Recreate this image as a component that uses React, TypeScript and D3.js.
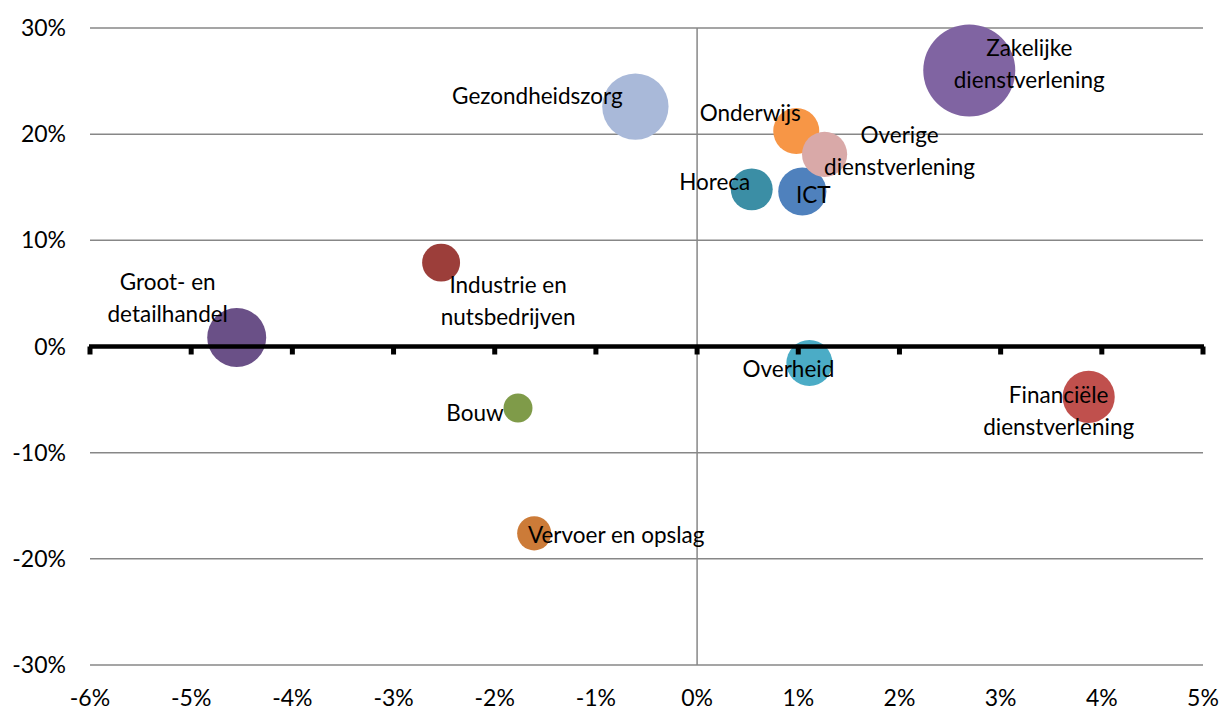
import React, { useEffect, useRef } from 'react';
import * as d3 from 'd3';

// sector names, growth of jobs (x, %), growth of something else (y, %), bubble size
const sectors = [
  'Horeca', 'ICT', 'Onderwijs', 'Overige dienstverlening', 'Gezondheidszorg',
  'Zakelijke dienstverlening', 'Industrie en nutsbedrijven', 'Groot- en detailhandel',
  'Bouw', 'Vervoer en opslag', 'Overheid', 'Financiële dienstverlening',
];
const xValues = [0.54, 1.04, 0.98, 1.26, -0.61, 2.69, -2.53, -4.55, -1.77, -1.61, 1.11, 3.87];
const yValues = [14.8, 14.6, 20.3, 18.1, 22.6, 26.0, 7.9, 0.85, -5.8, -17.6, -1.55, -4.75];
const sizes = [440, 580, 530, 510, 1100, 2116, 360, 870, 210, 290, 530, 680];

const colors = [
  '#3B8EA5', '#4F81BD', '#F79646', '#D9A9A8', '#A9B9D9', '#8064A2',
  '#9C3E3A', '#6A5087', '#7F9B49', '#CC7B38', '#4BACC6', '#C0504D',
];

// label lines and offsets (px) of the first baseline relative to the bubble centre
const labelLines = [
  ['Horeca'], ['ICT'], ['Onderwijs'], ['Overige', 'dienstverlening'], ['Gezondheidszorg'],
  ['Zakelijke', 'dienstverlening'], ['Industrie en', 'nutsbedrijven'], ['Groot- en', 'detailhandel'],
  ['Bouw'], ['Vervoer en opslag'], ['Overheid'], ['Financiële', 'dienstverlening'],
];
const labelOffsets: [number, number][] = [
  [-37, 1], [11, 12], [-46, -10], [75, -11], [-98, -3], [60, -14],
  [67, 30], [-69, -47], [-43, 13], [82, 10], [-21, 14], [-30, 6],
];

const xTicks = [-6, -5, -4, -3, -2, -1, 0, 1, 2, 3, 4, 5];
const yTicks = [-30, -20, -10, 0, 10, 20, 30];

const W = 1221;
const H = 711;

const BubbleChart = () => {
  const ref = useRef<SVGSVGElement>(null);

  useEffect(() => {
    if (!ref.current) return;
    const svg = d3.select(ref.current);
    svg.selectAll('*').remove();

    const margin = { top: 28, right: 18, bottom: 46, left: 90 };
    const x = d3.scaleLinear().domain([-6, 5]).range([margin.left, W - margin.right]);
    const y = d3.scaleLinear().domain([-30, 30]).range([H - margin.bottom, margin.top]);
    const r = d3.scaleSqrt().domain([0, d3.max(sizes) as number]).range([0, 46]);

    const font = 'Lato, "Open Sans", sans-serif';

    // horizontal gridlines
    svg.append('g')
      .selectAll('line')
      .data(yTicks.filter(t => t !== 0))
      .join('line')
      .attr('x1', x(-6)).attr('x2', x(5))
      .attr('y1', d => y(d)).attr('y2', d => y(d))
      .attr('stroke', '#878787').attr('stroke-width', 1.5);

    // vertical axis at x = 0
    svg.append('line')
      .attr('x1', x(0)).attr('x2', x(0))
      .attr('y1', y(30)).attr('y2', y(-30))
      .attr('stroke', '#878787').attr('stroke-width', 1.5);

    // y tick labels
    svg.append('g')
      .selectAll('text')
      .data(yTicks)
      .join('text')
      .attr('x', 66)
      .attr('y', d => y(d) + 8)
      .attr('text-anchor', 'end')
      .attr('font-family', font).attr('font-size', 23)
      .attr('fill', '#000')
      .text(d => `${d}%`);

    // x tick labels
    svg.append('g')
      .selectAll('text')
      .data(xTicks)
      .join('text')
      .attr('x', d => x(d))
      .attr('y', 706)
      .attr('text-anchor', 'middle')
      .attr('font-family', font).attr('font-size', 23)
      .attr('fill', '#000')
      .text(d => `${d}%`);

    // bubbles
    const idx = d3.range(sectors.length);
    svg.append('g')
      .selectAll('circle')
      .data(idx)
      .join('circle')
      .attr('cx', i => x(xValues[i]))
      .attr('cy', i => y(yValues[i]))
      .attr('r', i => r(sizes[i]))
      .attr('fill', i => colors[i]);

    // thick x axis at y = 0 with tick marks
    svg.append('line')
      .attr('x1', x(-6) - 1).attr('x2', x(5) + 1)
      .attr('y1', y(0)).attr('y2', y(0))
      .attr('stroke', '#000').attr('stroke-width', 4.5);
    svg.append('g')
      .selectAll('rect')
      .data(xTicks)
      .join('rect')
      .attr('x', d => x(d) - 2.5)
      .attr('y', y(0))
      .attr('width', 5)
      .attr('height', 8)
      .attr('fill', '#000');

    // data labels
    const labels = svg.append('g')
      .selectAll('text')
      .data(idx)
      .join('text')
      .attr('font-family', font).attr('font-size', 22.5)
      .attr('fill', '#000')
      .attr('text-anchor', 'middle');
    labels.each(function (i) {
      const cx = x(xValues[i]) + labelOffsets[i][0];
      const cy = y(yValues[i]) + labelOffsets[i][1];
      d3.select(this)
        .selectAll('tspan')
        .data(labelLines[i])
        .join('tspan')
        .attr('x', cx)
        .attr('y', (_, k) => cy + k * 32)
        .text(t => t);
    });
  }, []);

  return (
    <svg
      ref={ref}
      width={W}
      height={H}
      style={{ position: 'absolute', left: 0, top: 0, background: '#fff' }}
    />
  );
};

export default function App() {
  return <BubbleChart />;
}
